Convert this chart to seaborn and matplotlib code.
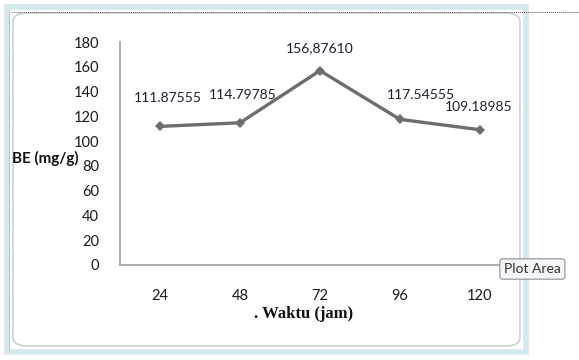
import matplotlib
matplotlib.use("Agg")
import matplotlib.pyplot as plt
import seaborn as sns
import pandas as pd
from matplotlib.patches import FancyBboxPatch, Rectangle
from matplotlib.lines import Line2D

waktu = ["24", "48", "72", "96", "120"]
be_values = [111.87555, 114.79785, 156.87610, 117.54555, 109.18985]
value_labels = ["111.87555", "114.79785", "156,87610", "117.54555", "109.18985"]
y_ticks = [0, 20, 40, 60, 80, 100, 120, 140, 160, 180]

df = pd.DataFrame({"waktu": waktu, "be": be_values})

sns.set_theme(style="white")
plt.rcParams["font.family"] = ["Lato", "DejaVu Sans"]

W, H = 579, 360
fig = plt.figure(figsize=(W / 100, H / 100), dpi=100)
fig.patch.set_facecolor("white")

def fx(px):
    return px / W

def fy(py):
    return 1 - py / H

# chart frame: light blue selection border with rounded inner edge
outer = Rectangle((fx(7), fy(352)), fx(526) - fx(7), fy(7) - fy(352),
                  transform=fig.transFigure, facecolor="none",
                  edgecolor="#d3e9ee", linewidth=4, zorder=0)
fig.add_artist(outer)
inner = FancyBboxPatch((fx(13), fy(346)), fx(520) - fx(13), fy(13) - fy(346),
                       boxstyle="round,pad=0,rounding_size=0.025",
                       transform=fig.transFigure, facecolor="white",
                       edgecolor="#c9d3d6", linewidth=1.2, zorder=0.5)
fig.add_artist(inner)
fig.add_artist(Line2D([fx(12), fx(579)], [fy(12), fy(12)], transform=fig.transFigure,
                      color="#555555", linestyle=(0, (1, 1)), linewidth=0.7, zorder=1))
fig.add_artist(Line2D([fx(9), fx(9)], [fy(12), fy(350)], transform=fig.transFigure,
                      color="#777777", linestyle=(0, (1, 1.5)), linewidth=0.6, zorder=1))

ax = fig.add_axes([fx(120), fy(265), fx(520) - fx(120), fy(42) - fy(265)])
ax.set_facecolor("none")
ax.set_zorder(3)

sns.lineplot(data=df, x="waktu", y="be", ax=ax, sort=False, color="#6d6d6d",
             linewidth=2.4, marker="D", markersize=5.5, markeredgewidth=0)

ax.set_ylim(0, 180)
ax.set_xlim(-0.5, len(waktu) - 0.5)
ax.set_yticks(y_ticks)
ax.set_yticklabels([str(t) for t in y_ticks], fontsize=10.5, color="#1a1a1a")
ax.set_xticks(range(len(waktu)))
ax.set_xticklabels(waktu, fontsize=10.5, color="#1a1a1a")
ax.tick_params(axis="y", length=0, pad=15)
ax.tick_params(axis="x", length=0, pad=17)

for side in ["top", "right"]:
    ax.spines[side].set_visible(False)
for side in ["left", "bottom"]:
    ax.spines[side].set_color("#a0a0a0")
    ax.spines[side].set_linewidth(1.2)

ax.set_xlabel("")
ax.set_ylabel("")

# value labels, offsets in pixels from each marker
offsets = [(8, 28), (3, 28), (0, 22), (21, 24), (-1, 23)]
for i, (v, lab) in enumerate(zip(be_values, value_labels)):
    dx, dy = offsets[i]
    ax.annotate(lab, (i, v), xytext=(dx, dy), textcoords="offset pixels",
                ha="center", va="center", fontsize=10, color="#1f1f2f")

fig.text(fx(12), fy(158), "BE (mg/g)", fontsize=11, fontweight="bold",
         ha="left", va="center", color="#111111", zorder=4)
fig.text(fx(304), fy(314), ". Waktu (jam)", fontsize=12, fontweight="bold",
         ha="center", va="center", family=["Liberation Serif", "DejaVu Serif"],
         color="#111111", zorder=4)

# hover tooltip
fig.text(fx(504), fy(269), "Plot Area", fontsize=10, ha="left", va="center",
         color="#333333", zorder=5,
         bbox=dict(boxstyle="round,pad=0.3,rounding_size=0.2", facecolor="#f4f6f8",
                   edgecolor="#8a8f96", linewidth=0.8))

fig.savefig("out.png", dpi=100)
